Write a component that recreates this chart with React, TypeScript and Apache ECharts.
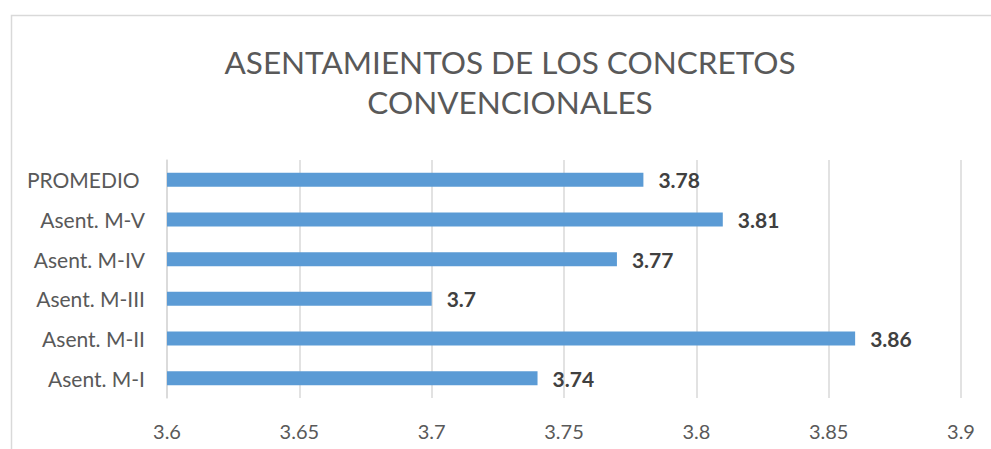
import React, { useEffect, useRef } from "react";
import * as echarts from "echarts";

const categories = ["Asent. M-I", "Asent. M-II", "Asent. M-III", "Asent. M-IV", "Asent. M-V", "PROMEDIO "];
const values = [3.74, 3.86, 3.7, 3.77, 3.81, 3.78];
const titleText = "ASENTAMIENTOS DE LOS CONCRETOS\nCONVENCIONALES";
const FONT = "Lato, 'Noto Sans', sans-serif";

export default function App() {
  const ref = useRef<HTMLDivElement>(null);
  useEffect(() => {
    const chart = echarts.init(ref.current!, null, { renderer: "svg" });
    chart.setOption({
      animation: false,
      backgroundColor: "#ffffff",
      graphic: [
        {
          type: "rect",
          shape: { x: 11.5, y: 15.5, width: 1000, height: 500 },
          style: { fill: "none", stroke: "#d9d9d9", lineWidth: 1.5 },
          silent: true,
        },
      ],
      title: {
        text: titleText,
        left: 505,
        textAlign: "center",
        top: 37,
        textStyle: { fontFamily: FONT, fontSize: 31.5, fontWeight: "normal", color: "#595959", lineHeight: 40 },
      },
      grid: { left: 167, right: 30, top: 160, bottom: 51, containLabel: false },
      xAxis: {
        type: "value",
        min: 3.6,
        max: 3.9,
        interval: 0.05,
        axisLine: { show: false },
        axisTick: { show: false },
        splitLine: { show: true, lineStyle: { color: "#d9d9d9", width: 1.5 } },
        axisLabel: {
          fontFamily: FONT,
          fontSize: 20,
          color: "#595959",
          margin: 23,
          formatter: (v: number) => String(parseFloat(v.toFixed(2))),
        },
      },
      yAxis: {
        type: "category",
        data: categories,
        axisLine: { show: true, lineStyle: { color: "#d9d9d9", width: 1.5 } },
        axisTick: { show: false },
        axisLabel: { fontFamily: FONT, fontSize: 21, color: "#595959", margin: 22 },
      },
      series: [
        {
          type: "bar",
          data: values,
          barWidth: 14,
          itemStyle: { color: "#5B9BD5" },
          label: {
            show: true,
            position: "right",
            distance: 15,
            fontFamily: FONT,
            fontSize: 21,
            fontWeight: "bold",
            color: "#404040",
          },
        },
      ],
    });
    return () => chart.dispose();
  }, []);
  return <div ref={ref} style={{ position: "fixed", left: 0, top: 0, width: 991, height: 449 }} />;
}
